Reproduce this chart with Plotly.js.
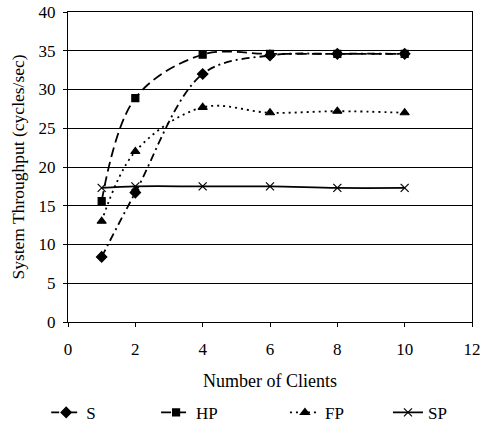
<!DOCTYPE html>
<html><head><meta charset="utf-8">
<script src="https://cdn.plot.ly/plotly-3.0.1.min.js"></script>
<style>html,body{margin:0;padding:0;background:#fff}#c{width:481px;height:428px}</style>
</head><body><div id="c"></div>
<script>
const clients = [1, 2, 4, 6, 8, 10];
const sVals  = [8.4, 16.7, 32.0, 34.4, 34.6, 34.6];
const hpVals = [15.6, 28.9, 34.5, 34.6, 34.6, 34.6];
const fpVals = [13.0, 22.0, 27.7, 27.0, 27.2, 27.0];
const spVals = [17.3, 17.5, 17.5, 17.5, 17.3, 17.3];
const names = ['S', 'HP', 'FP', 'SP'];

const mk = (name, y, dash, sym, size, leg) => ({
  x: clients, y: y, name: name, type: 'scatter', mode: 'lines+markers', legend: leg,
  line: {color: '#000', width: 1.8, dash: dash, shape: 'spline', smoothing: 1},
  marker: {color: '#000', symbol: sym, size: size, line: {color: '#000', width: 1.2}}
});
const data = [
  mk(names[0], sVals, '8px,4px,2px,4px', 'diamond', 8, 'legend'),
  mk(names[1], hpVals, '10px,5px', 'square', 7, 'legend2'),
  mk(names[2], fpVals, '2px,4px', 'triangle-up', 8, 'legend3'),
  mk(names[3], spVals, 'solid', 'x-thin', 8, 'legend4')
];
const leg = (x) => ({orientation: 'h', x: x, xanchor: 'left', y: -0.235, yanchor: 'top',
  font: {size: 17}, bgcolor: 'rgba(0,0,0,0)'});
const layout = {
  width: 481, height: 428,
  margin: {l: 68, r: 9, t: 12, b: 106, autoexpand: false},
  paper_bgcolor: '#fff', plot_bgcolor: '#fff',
  font: {family: 'Liberation Serif, Times New Roman, serif', size: 17, color: '#000'},
  xaxis: {range: [0, 12], dtick: 2, showgrid: false, zeroline: false,
    showline: true, linecolor: '#000', linewidth: 1, mirror: true,
    ticks: 'outside', ticklen: 4, tickcolor: '#000', tickfont: {size: 17},
    ticklabelstandoff: 8,
    title: {text: 'Number of Clients', font: {size: 18}, standoff: 15}},
  yaxis: {range: [0, 40], dtick: 5, showgrid: true, gridcolor: '#000', gridwidth: 1,
    zeroline: false, showline: true, linecolor: '#000', linewidth: 1, mirror: true,
    ticks: 'outside', ticklen: 4, tickcolor: '#000', tickfont: {size: 17},
    ticklabelstandoff: 4,
    title: {text: 'System Throughput (cycles/sec)', font: {size: 17.5}, standoff: 9}},
  legend: leg(-0.054),
  legend2: leg(0.218),
  legend3: leg(0.537),
  legend4: leg(0.792),
  showlegend: true
};
Plotly.newPlot('c', data, layout, {displayModeBar: false, staticPlot: true});
</script></body></html>
